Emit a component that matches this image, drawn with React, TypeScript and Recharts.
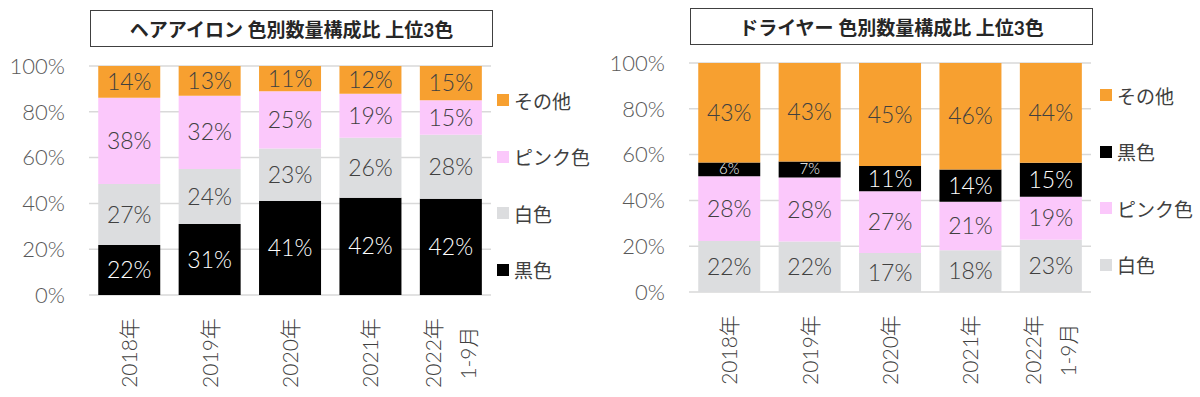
import { BarChart, Bar, XAxis, YAxis, CartesianGrid, LabelList } from "recharts";

const years = ["2018年", "2019年", "2020年", "2021年", "2022年\n1-9月"];
const yTicks = [0, 0.2, 0.4, 0.6, 0.8, 1];

// ヘアアイロン
const ironBlack = [22, 31, 41, 42, 42];
const ironWhite = [27, 24, 23, 26, 28];
const ironPink = [38, 32, 25, 19, 15];
const ironOther = [14, 13, 11, 12, 15];

// ドライヤー
const dryerWhite = [22, 22, 17, 18, 23];
const dryerPink = [28, 28, 27, 21, 19];
const dryerBlack = [6, 7, 11, 14, 15];
const dryerOther = [43, 43, 45, 46, 44];

const COLORS: Record<string, string> = {
  黒色: "#000000",
  白色: "#dcdddf",
  ピンク色: "#fbc8fb",
  その他: "#f7a030",
};

const FONT = "Lato, 'Noto Sans CJK JP', sans-serif";

interface Series {
  name: string;
  values: number[];
}

// eslint-disable-next-line @typescript-eslint/no-explicit-any
function XTick({ x, y, payload }: any) {
  const lines = String(payload.value).split("\n");
  const cy = y + 50;
  return (
    <g>
      {lines.map((line, i) => {
        const lx = x + (i - (lines.length - 1) / 2) * 35 + 8;
        return (
          <text
            key={i}
            x={lx}
            y={cy}
            transform={`rotate(-90 ${lx} ${cy})`}
            textAnchor="middle"
            fill="#404040"
            fontSize={21}
            fontWeight={300}
            fontFamily={FONT}
          >
            {line}
          </text>
        );
      })}
    </g>
  );
}

function makeLabel(color: string) {
  // eslint-disable-next-line @typescript-eslint/no-explicit-any
  return (props: any) => {
    const { x, y, width, height, value } = props;
    const small = value < 10;
    return (
      <text
        x={x + width / 2}
        y={y + height / 2}
        dy={small ? 5 : 8}
        textAnchor="middle"
        fill={color}
        fontSize={small ? 15 : 23}
        fontWeight={300}
        fontFamily={FONT}
      >
        {value}%
      </text>
    );
  };
}

function StackChart({
  title,
  series,
  legendOrder,
  top,
  titleTop,
  legendTop,
  legendLeft,
}: {
  title: string;
  series: Series[];
  legendOrder: string[];
  top: number;
  titleTop: number;
  legendTop: number;
  legendLeft: number;
}) {
  const data = years.map((y, i) => {
    const row: Record<string, string | number> = { year: y };
    series.forEach((s) => (row[s.name] = s.values[i]));
    return row;
  });

  return (
    <div style={{ position: "relative", width: 600, height: 397 }}>
      <div
        style={{
          position: "absolute",
          left: 90,
          top: titleTop,
          width: 403,
          height: 37,
          boxSizing: "border-box",
          border: "1.5px solid #404040",
          background: "#fff",
          display: "flex",
          alignItems: "center",
          justifyContent: "center",
          fontFamily: FONT,
          fontWeight: 700,
          fontSize: 19,
          color: "#262626",
        }}
      >
        {title}
      </div>
      <BarChart
        width={600}
        height={397}
        data={data}
        stackOffset="expand"
        barCategoryGap="11.5%"
        margin={{ top, right: 109, left: 0, bottom: 0 }}
      >
        <CartesianGrid vertical={false} stroke="#d9d9d9" strokeWidth={1.5} />
        <XAxis
          dataKey="year"
          axisLine={false}
          tickLine={false}
          height={397 - top - 229}
          interval={0}
          tick={<XTick />}
        />
        <YAxis
          width={89}
          ticks={yTicks}
          domain={[0, 1]}
          axisLine={false}
          tickLine={false}
          tickFormatter={(v) => `${Math.round(v * 100)}%`}
          tick={{ fill: "#595959", fontSize: 22, fontWeight: 300, fontFamily: FONT, dx: -16 }}
        />
        {series.map((s) => (
          <Bar key={s.name} dataKey={s.name} stackId="a" fill={COLORS[s.name]} isAnimationActive={false}>
            <LabelList
              dataKey={s.name}
              content={makeLabel(s.name === "黒色" ? "#ffffff" : "#404040")}
            />
          </Bar>
        ))}
      </BarChart>
      <div style={{ position: "absolute", left: legendLeft, top: legendTop }}>
        {legendOrder.map((name) => (
          <div
            key={name}
            style={{
              display: "flex",
              alignItems: "center",
              height: 56.5,
              fontFamily: FONT,
              fontSize: 19,
              color: "#404040",
            }}
          >
            <span style={{ width: 12, height: 12, background: COLORS[name], marginRight: 5 }} />
            {name}
          </div>
        ))}
      </div>
    </div>
  );
}

export default function App() {
  return (
    <div
      style={{
        position: "fixed",
        left: 0,
        top: 0,
        width: 1200,
        height: 397,
        background: "#fff",
        display: "flex",
      }}
    >
      <StackChart
        title="ヘアアイロン 色別数量構成比 上位3色"
        top={66}
        titleTop={10}
        legendTop={72}
        legendLeft={497}
        series={[
          { name: "黒色", values: ironBlack },
          { name: "白色", values: ironWhite },
          { name: "ピンク色", values: ironPink },
          { name: "その他", values: ironOther },
        ]}
        legendOrder={["その他", "ピンク色", "白色", "黒色"]}
      />
      <StackChart
        title="ドライヤー 色別数量構成比 上位3色"
        top={63}
        titleTop={8}
        legendTop={67}
        legendLeft={500}
        series={[
          { name: "白色", values: dryerWhite },
          { name: "ピンク色", values: dryerPink },
          { name: "黒色", values: dryerBlack },
          { name: "その他", values: dryerOther },
        ]}
        legendOrder={["その他", "黒色", "ピンク色", "白色"]}
      />
    </div>
  );
}
